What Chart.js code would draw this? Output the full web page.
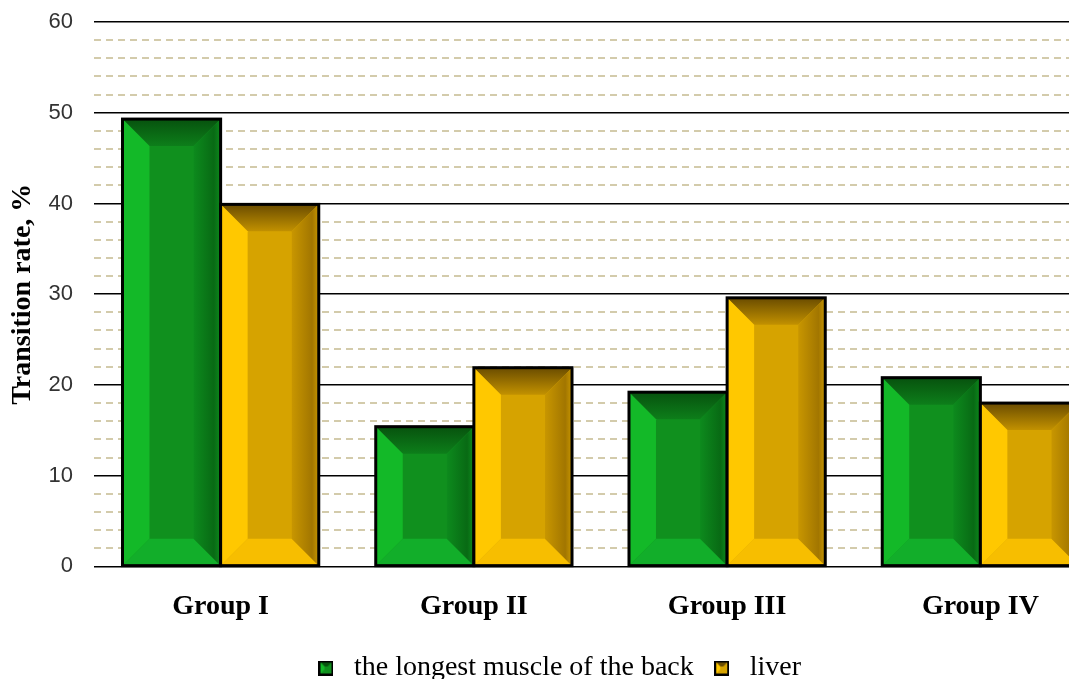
<!DOCTYPE html>
<html>
<head>
<meta charset="utf-8">
<script src="https://cdn.jsdelivr.net/npm/chart.js@4.4.1/dist/chart.umd.min.js"></script>
<style>
  html, body { margin: 0; padding: 0; background: #fff; overflow: hidden; }
  #wrap { width: 1110px; height: 692px; }
</style>
</head>
<body>
<div id="wrap"><canvas id="myChart"></canvas></div>
<script>
// values
const categories = ['Group I', 'Group II', 'Group III', 'Group IV'];
const muscleValues = [49.3, 15.4, 19.2, 20.8];
const liverValues = [39.9, 21.9, 29.6, 18.0];
const seriesNames = ['the longest muscle of the back', 'liver'];
const yTicks = [0, 10, 20, 30, 40, 50, 60];

// bevel colours for each series
const bevels = [
  { center: '#10901e', left: '#13b928', bottom: '#12ae2a', topDark: '#07520e', topLight: '#0d7e1a', rightLight: '#0d8a1d', rightDark: '#086a14' },
  { center: '#d6a300', left: '#ffc800', bottom: '#f7be00', topDark: '#6a4c00', topLight: '#c29100', rightLight: '#c89600', rightDark: '#a27600' }
];

function fillPoly(ctx, pts, style) {
  ctx.beginPath();
  ctx.moveTo(pts[0][0], pts[0][1]);
  for (let i = 1; i < pts.length; i++) ctx.lineTo(pts[i][0], pts[i][1]);
  ctx.closePath();
  ctx.fillStyle = style;
  ctx.fill();
}

//draw the bevelled look on top of every bar
const bevelPlugin = {
  id: 'bevel',
  afterDatasetsDraw(chart) {
    const ctx = chart.ctx;
    ctx.save();
    chart.data.datasets.forEach((ds, di) => {
      const meta = chart.getDatasetMeta(di);
      const c = bevels[di];
      meta.data.forEach(bar => {
        const l = bar.x - bar.width / 2, r = bar.x + bar.width / 2;
        const t = bar.y, b = bar.base;
        const d = Math.min(27, (r - l) / 3, (b - t) / 2);
        fillPoly(ctx, [[l, t], [r, t], [r, b], [l, b]], c.center);
        let g = ctx.createLinearGradient(0, t, 0, t + d);
        g.addColorStop(0, c.topDark);
        g.addColorStop(1, c.topLight);
        fillPoly(ctx, [[l, t], [r, t], [r - d, t + d], [l + d, t + d]], g);
        fillPoly(ctx, [[l, b], [r, b], [r - d, b - d], [l + d, b - d]], c.bottom);
        fillPoly(ctx, [[l, t], [l + d, t + d], [l + d, b - d], [l, b]], c.left);
        g = ctx.createLinearGradient(r - d, 0, r, 0);
        g.addColorStop(0, c.rightLight);
        g.addColorStop(0.75, c.rightDark);
        g.addColorStop(1, c.rightLight);
        fillPoly(ctx, [[r, t], [r - d, t + d], [r - d, b - d], [r, b]], g);
        ctx.lineWidth = 3;
        ctx.strokeStyle = '#000';
        ctx.strokeRect(l, t, r - l, b - t);
      });
    });
    ctx.restore();
  }
};

//small bevelled squares for the legend
function legendIcon(c) {
  const cv = document.createElement('canvas');
  cv.width = 15; cv.height = 15;
  const x = cv.getContext('2d');
  x.fillStyle = '#000';
  x.fillRect(0, 0, 15, 15);
  x.fillStyle = c.center;
  x.fillRect(2, 2, 11, 11);
  fillPoly(x, [[2, 2], [13, 2], [9, 6], [6, 6]], c.topDark);
  fillPoly(x, [[2, 2], [6, 6], [6, 9], [2, 13]], c.left);
  return cv;
}

const ctx = document.getElementById('myChart');
new Chart(ctx, {
  type: 'bar',
  data: {
    labels: categories,
    datasets: [
      { label: seriesNames[0], data: muscleValues, backgroundColor: bevels[0].center, pointStyle: legendIcon(bevels[0]),
        barPercentage: 1, categoryPercentage: 0.775 },
      { label: seriesNames[1], data: liverValues, backgroundColor: bevels[1].center, pointStyle: legendIcon(bevels[1]),
        barPercentage: 1, categoryPercentage: 0.775 }
    ]
  },
  options: {
    responsive: true,
    maintainAspectRatio: false,
    animation: false,
    layout: { padding: { top: 22, left: 6, right: 3, bottom: 0 } },
    plugins: {
      tooltip: { enabled: false },
      legend: {
        position: 'bottom',
        labels: {
          usePointStyle: true,
          color: '#000',
          padding: 14,
          font: { family: 'Liberation Serif', size: 28 }
        }
      }
    },
    scales: {
      x: {
        grid: { display: false },
        border: { display: false },
        ticks: { color: '#000', padding: 16, font: { family: 'Liberation Serif', size: 28, weight: 'bold' } }
      },
      y: {
        min: 0, max: 60,
        afterBuildTicks: axis => { axis.ticks = yTicks.map(v => ({ value: v })); },
        afterFit: axis => { axis.width = 88; axis.paddingTop = 0; axis.paddingBottom = 0; },
        grid: { color: '#000', lineWidth: 1.5, drawTicks: false },
        border: { display: false },
        ticks: { color: '#333', padding: 21, font: { family: 'Liberation Sans', size: 22 } },
        title: {
          display: true,
          text: 'Transition rate, %',
          color: '#000',
          padding: { top: 0, bottom: 8 },
          font: { family: 'Liberation Serif', size: 28, weight: 'bold' }
        }
      },
      yMinor: {
        position: 'left',
        min: 0, max: 60,
        afterFit: axis => { axis.width = 0; },
        ticks: { display: false, stepSize: 2 },
        grid: {
          color: c => (c.tick.value % 10 === 0 ? 'rgba(0,0,0,0)' : '#d3cbab'),
          lineWidth: 2,
          drawTicks: false
        },
        border: { display: false, dash: [7, 5] }
      }
    }
  },
  plugins: [bevelPlugin]
});
</script>
</body>
</html>
